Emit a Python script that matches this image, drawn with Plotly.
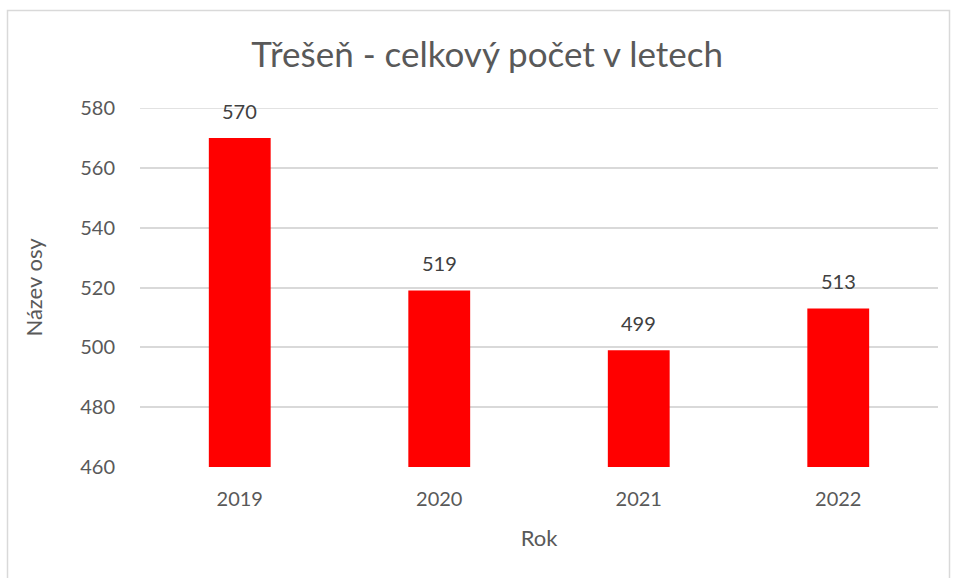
import plotly.graph_objects as go

years = ["2019", "2020", "2021", "2022"]
counts = [570, 519, 499, 513]
y_ticks = [460, 480, 500, 520, 540, 560, 580]

title_text = "Třešeň - celkový počet v letech"
x_title = "Rok"
y_title = "Název osy"

W, H = 955, 578
ml, mr, mt, mb = 140, 17, 108, 111
pw, ph = W - ml - mr, H - mt - mb

FONT = "Lato, Open Sans, sans-serif"
GRID = "#d9d9d9"

fig = go.Figure(go.Bar(
    x=years, y=counts,
    marker=dict(color="#ff0000", line=dict(width=0)),
    width=0.31,
))

for i, yv in enumerate(counts):
    fig.add_annotation(x=i, y=yv, text=str(yv), showarrow=False,
                       xref="x", yref="y",
                       yanchor="middle", yshift=27,
                       font=dict(family=FONT, size=20, color="#404040"))

# top gridline (plotly omits the gridline at the range edge)
fig.add_shape(type="line", xref="paper", yref="y", x0=0, x1=1,
              y0=y_ticks[-1], y1=y_ticks[-1],
              line=dict(color=GRID, width=1.5), layer="below")

# outer chart border
fig.add_shape(type="rect", xref="paper", yref="paper",
              x0=(7.5 - ml) / pw, x1=(949.5 - ml) / pw,
              y0=-(mb + 30) / ph,
              y1=1 + (mt - 10.5) / ph,
              line=dict(color=GRID, width=1.5), layer="below")

fig.update_layout(
    width=W, height=H,
    margin=dict(l=ml, r=mr, t=mt, b=mb),
    paper_bgcolor="white", plot_bgcolor="white",
    title=dict(text=title_text, x=0.51, xanchor="center", y=1 - 55 / H, yanchor="middle",
               font=dict(family=FONT, size=35, color="#595959")),
    font=dict(family=FONT, color="#595959"),
    showlegend=False,
    xaxis=dict(
        type="category", range=[-0.5, len(years) - 0.5], autorange=False,
        showgrid=False, showline=False, zeroline=False,
        tickfont=dict(size=20, color="#595959"),
        ticks="outside", ticklen=14, tickcolor="rgba(0,0,0,0)",
        title=dict(text=x_title, font=dict(size=22, color="#595959"), standoff=21),
    ),
    yaxis=dict(
        range=[460, 580], tickvals=y_ticks,
        showgrid=True, gridcolor=GRID, gridwidth=1.5,
        zeroline=False, showline=False,
        tickfont=dict(size=20, color="#595959"),
        ticks="outside", ticklen=20, tickcolor="rgba(0,0,0,0)",
        title=dict(text=y_title, font=dict(size=22, color="#595959"), standoff=31),
    ),
)

fig.write_html("out.html", config={"displayModeBar": False},
               post_script="document.body.style.margin='0px';")
